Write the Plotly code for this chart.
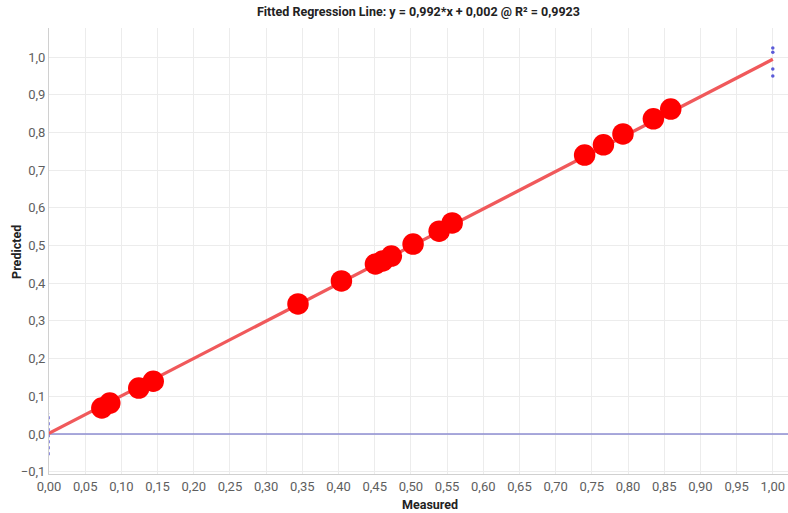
import plotly.graph_objects as go

# Measured vs. predicted values
measured = [0.073, 0.084, 0.124, 0.144, 0.344, 0.404, 0.451, 0.461, 0.473,
            0.503, 0.539, 0.557, 0.740, 0.766, 0.793, 0.835, 0.859]
predicted = [0.069, 0.082, 0.122, 0.140, 0.345, 0.406, 0.451, 0.459, 0.472,
             0.504, 0.538, 0.560, 0.740, 0.767, 0.796, 0.836, 0.862]

# Fitted regression line: y = slope*x + intercept
slope = 0.992
intercept = 0.002
r_squared = 0.9923
fit_x = [0.0, 1.0]
fit_y = [slope * v + intercept for v in fit_x]

# Reference zero line and small boundary markers
zero_x = [0.0, 1.021]
zero_y = [0.0, 0.0]
edge_x = [1.0, 1.0, 1.0, 1.0]
edge_y = [1.024, 1.013, 0.968, 0.950]
origin_x = [0.0, 0.0]
origin_y = [-0.056, 0.056]

x_ticks = [i * 0.05 for i in range(21)]
y_ticks = [i * 0.1 for i in range(-1, 11)]

fig = go.Figure()

fig.add_trace(go.Scatter(
    x=zero_x, y=zero_y, mode="lines",
    line=dict(color="#8e8ed2", width=1.5), hoverinfo="skip", showlegend=False))

fig.add_trace(go.Scatter(
    x=origin_x, y=origin_y, mode="lines",
    line=dict(color="#6a6ad8", width=1.5, dash="dot"), hoverinfo="skip", showlegend=False))

fig.add_trace(go.Scatter(
    x=fit_x, y=fit_y, mode="lines",
    line=dict(color="#f0595b", width=3.2), showlegend=False))

fig.add_trace(go.Scatter(
    x=measured, y=predicted, mode="markers",
    marker=dict(color="#ff0000", size=21.5, line=dict(width=0)), showlegend=False))

fig.add_trace(go.Scatter(
    x=edge_x, y=edge_y, mode="markers",
    marker=dict(color="#5a5ad8", size=3.5), showlegend=False))

title = ("Fitted Regression Line: y = %s*x + %s @ R² = %s"
         % (f"{slope:.3f}".replace(".", ","), f"{intercept:.3f}".replace(".", ","),
            f"{r_squared:.4f}".replace(".", ",")))

axis_title_font = dict(family="Roboto", size=12.5, color="#222222")

fig.update_layout(
    width=788, height=513,
    margin=dict(l=49, r=0, t=28, b=39),
    paper_bgcolor="white", plot_bgcolor="white",
    separators=",.",
    font=dict(family="Roboto", size=13, color="#5e5e5e"),
    title=dict(text="<b>" + title + "</b>", x=0.531, xanchor="center", y=0.985, yanchor="top",
               font=dict(family="Roboto", size=12.5, color="#222222")),
    xaxis=dict(
        range=[0, 1.021], tickvals=x_ticks, tickformat=".2f",
        showgrid=True, gridcolor="#ececec", gridwidth=1,
        zeroline=False, showline=True, linecolor="#d0d0d0", linewidth=1,
        ticks="", ticklen=0,
    ),
    yaxis=dict(
        range=[-0.106, 1.077], tickvals=y_ticks, tickformat=".1f",
        showgrid=True, gridcolor="#ececec", gridwidth=1,
        zeroline=False, showline=True, linecolor="#d0d0d0", linewidth=1,
        ticks="", ticklen=0,
    ),
    annotations=[
        dict(text="<b>Measured</b>", xref="paper", yref="paper",
             x=0.5156, y=-0.069, xanchor="center", yanchor="middle",
             showarrow=False, font=axis_title_font),
        dict(text="<b>Predicted</b>", xref="paper", yref="paper",
             x=-0.0433, y=0.498, xanchor="center", yanchor="middle", textangle=-90,
             showarrow=False, font=axis_title_font),
    ],
)

fig.write_html("out.html")
